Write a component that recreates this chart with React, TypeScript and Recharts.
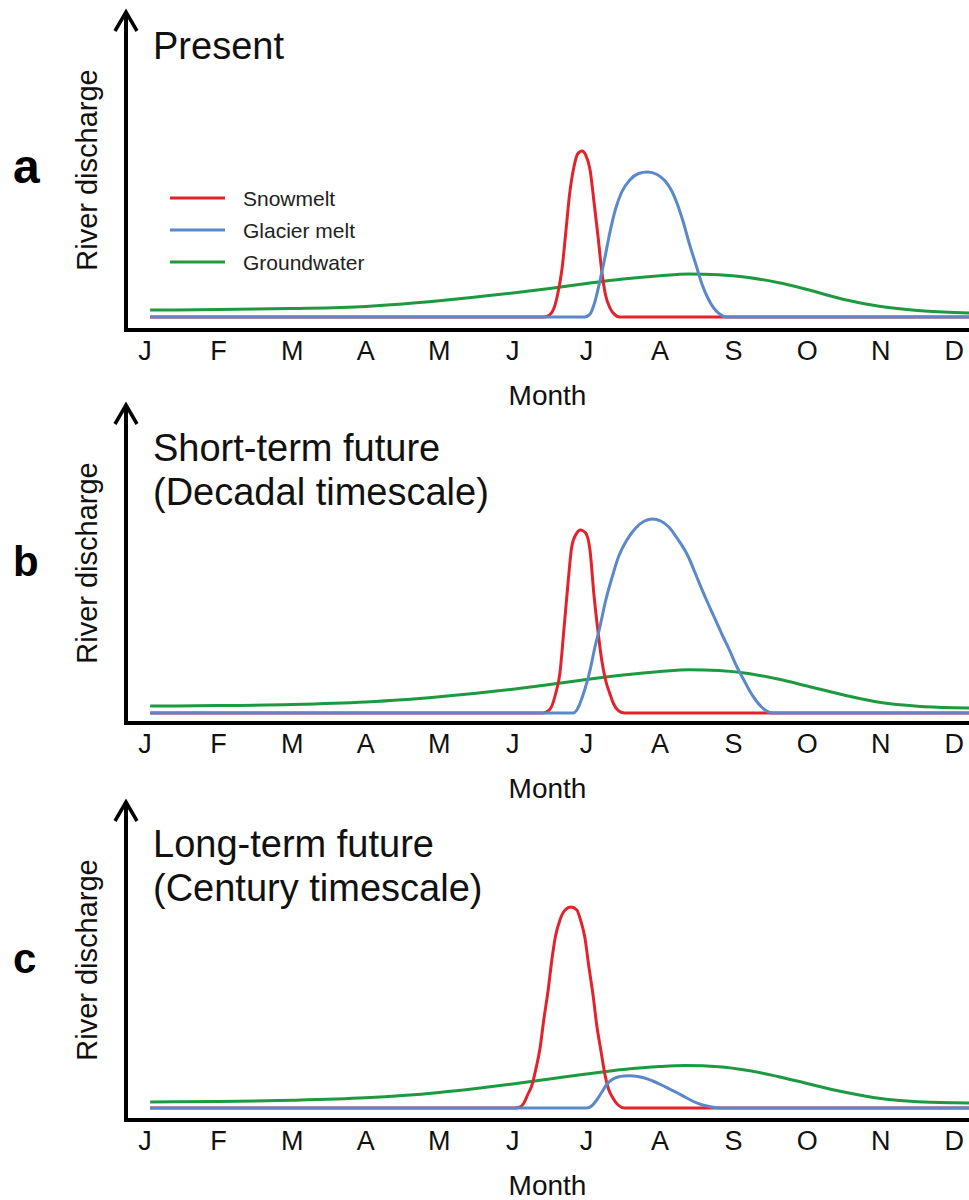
import { Legend, Line, LineChart, ReferenceDot, XAxis, YAxis } from "recharts";

// month positions: J = 0 ... D = 11; discharge in arbitrary units (axis = 0)
const monthTicks = [0, 1, 2, 3, 4, 5, 6, 7, 8, 9, 10, 11];
const monthLabels = ["J", "F", "M", "A", "M", "J", "J", "A", "S", "O", "N", "D"];

const X_MIN = -0.258;
const X_MAX = 11.2;
const Y_MAX = 318;

// ---- a: Present
const presentSnow: [number, number][] = [
  [0.07, 13], [5.43, 13], [5.5, 15], [5.56, 22], [5.61, 36], [5.67, 62], [5.72, 98], [5.77, 135],
  [5.83, 163], [5.88, 176], [5.94, 179], [5.99, 175], [6.05, 160], [6.1, 130], [6.16, 92], [6.21, 58],
  [6.26, 35], [6.32, 22], [6.39, 15], [6.45, 13], [11.2, 13],
];
const presentGlacier: [number, number][] = [
  [0.07, 13], [5.98, 13], [6.05, 16], [6.11, 27], [6.18, 48], [6.25, 72], [6.32, 98], [6.4, 122],
  [6.48, 138], [6.59, 150], [6.71, 156.5], [6.83, 158], [6.96, 155.5], [7.07, 149], [7.16, 139],
  [7.24, 125], [7.32, 107], [7.4, 86], [7.49, 65], [7.57, 46], [7.65, 32], [7.73, 22], [7.81, 16],
  [7.91, 13], [11.2, 13],
];
const presentGround: [number, number][] = [
  [0.07, 20], [1, 20.4], [2, 21.5], [3, 23.6], [3.5, 26], [4, 29.2], [4.5, 33], [5, 37], [5.5, 41.5],
  [6, 46.5], [6.5, 51], [7, 54.3], [7.4, 56], [7.8, 55.3], [8.2, 52.5], [8.6, 47.5], [9, 40.5],
  [9.5, 30.5], [10, 23.5], [10.5, 19.5], [11, 17.5], [11.2, 17],
];

// ---- b: Short-term future
const shortSnow: [number, number][] = [
  [0.07, 10], [5.41, 10], [5.48, 12], [5.53, 17], [5.58, 29], [5.64, 50], [5.69, 90], [5.75, 140],
  [5.8, 176], [5.86, 189], [5.92, 193], [5.99, 190], [6.05, 172], [6.1, 130], [6.16, 90], [6.21, 62],
  [6.26, 43], [6.32, 29], [6.37, 19], [6.44, 12], [6.52, 10], [11.2, 10],
];
const shortGlacier: [number, number][] = [
  [0.07, 10], [5.82, 10], [5.87, 13], [5.92, 21], [5.98, 34], [6.05, 53], [6.11, 74], [6.18, 95],
  [6.26, 122], [6.35, 146], [6.44, 167], [6.55, 183], [6.67, 195], [6.79, 202], [6.9, 204], [7.01, 202],
  [7.12, 196], [7.24, 184], [7.38, 167], [7.5, 146], [7.62, 125], [7.73, 107], [7.84, 89], [7.95, 72],
  [8.04, 57], [8.14, 43], [8.22, 32], [8.3, 23], [8.38, 16], [8.45, 12], [8.52, 10], [11.2, 10],
];
const shortGround: [number, number][] = [
  [0.07, 17], [1, 17.4], [2, 18.5], [3, 21], [3.5, 23.2], [4, 26.2], [4.5, 29.8], [5, 33.8], [5.5, 38.5],
  [6, 43.5], [6.5, 48], [7, 51.5], [7.4, 53.3], [7.8, 52.5], [8.2, 49.5], [8.6, 44], [9, 37], [9.5, 28],
  [10, 20.5], [10.5, 16.8], [11, 15.3], [11.2, 15],
];

// ---- c: Long-term future
const longSnow: [number, number][] = [
  [0.07, 12], [5.03, 12], [5.1, 13], [5.15, 17], [5.2, 25], [5.26, 35], [5.31, 50], [5.37, 72],
  [5.42, 100], [5.48, 130], [5.53, 160], [5.58, 184], [5.64, 200], [5.71, 210], [5.79, 213], [5.87, 210],
  [5.92, 200], [5.98, 182], [6.03, 155], [6.09, 125], [6.14, 95], [6.2, 68], [6.25, 46], [6.3, 31],
  [6.36, 22], [6.43, 15], [6.52, 12], [11.2, 12],
];
const longGlacier: [number, number][] = [
  [0.07, 12], [6.01, 12], [6.07, 14], [6.14, 20], [6.21, 28], [6.28, 36], [6.35, 40.5], [6.43, 43],
  [6.51, 44], [6.59, 44.2], [6.7, 43.5], [6.79, 42], [6.9, 39], [7.02, 35], [7.13, 31], [7.24, 27],
  [7.35, 22.5], [7.47, 18], [7.58, 15], [7.7, 13], [7.84, 12], [11.2, 12],
];
const longGround: [number, number][] = [
  [0.07, 18], [1, 18.5], [2, 19.7], [3, 22.2], [3.5, 24.5], [4, 27.6], [4.5, 31.5], [5, 36], [5.5, 41],
  [6, 46], [6.5, 50.5], [7, 53.5], [7.35, 54.5], [7.8, 53.3], [8.2, 49.5], [8.6, 43.5], [9, 36.5],
  [9.5, 28], [10, 21.5], [10.5, 18.3], [11, 17.2], [11.2, 17],
];

const SNOW = "#e3232b";
const GLACIER = "#5a88c8";
const GROUND = "#1d9940";
const legendOrder = ["Snowmelt", "Glacier melt", "Groundwater"];

const toPoints = (rows: [number, number][]) => rows.map(([m, q]) => ({ m, q }));

const panels = [
  {
    key: "a", letter: "a", letterSize: 48, top: 0, title: ["Present"], titleY: 47, legend: true,
    snow: presentSnow, glacier: presentGlacier, ground: presentGround,
  },
  {
    key: "b", letter: "b", letterSize: 42, top: 393, title: ["Short-term future", "(Decadal timescale)"], titleY: 56,
    legend: false, snow: shortSnow, glacier: shortGlacier, ground: shortGround,
  },
  {
    key: "c", letter: "c", letterSize: 42, top: 790, title: ["Long-term future", "(Century timescale)"], titleY: 55,
    legend: false, snow: longSnow, glacier: longGlacier, ground: longGround,
  },
];

const MonthTick = (props: any) => {
  const { x, y, payload } = props;
  return (
    <text x={x} y={y} dy={22} textAnchor="middle" fontSize={27} fill="#111">
      {monthLabels[payload.value]}
    </text>
  );
};

const MonthLabel = (props: any) => {
  const vb = props.viewBox || { x: 126, y: 330, width: 843, height: 80 };
  return (
    <text x={vb.x + vb.width / 2} y={vb.y + 75} textAnchor="middle" fontSize={28} fill="#111">
      Month
    </text>
  );
};

const PanelText = (props: any) => {
  const { panel } = props;
  const vb = props.viewBox || { x: 106, y: 12, width: 20, height: 318 };
  const axisX = vb.x + vb.width;
  const bottom = vb.y + vb.height;
  const ry = bottom - 160;
  return (
    <g>
      <text
        x={axisX - 29}
        y={ry}
        transform={`rotate(-90, ${axisX - 29}, ${ry})`}
        textAnchor="middle"
        fontSize={29}
        fill="#111"
      >
        River discharge
      </text>
      <text x={13} y={bottom - 147} fontSize={panel.letterSize} fontWeight="bold" fill="#000">
        {panel.letter}
      </text>
      {panel.title.map((line: string, i: number) => (
        <text key={line} x={axisX + 27} y={vb.y + panel.titleY + i * 44} fontSize={38} fill="#111">
          {line}
        </text>
      ))}
    </g>
  );
};

const Arrow = (props: any) => {
  const { cx, cy } = props;
  return (
    <path
      d={`M${cx - 11},${cy + 19} L${cx},${cy} L${cx + 11},${cy + 19}`}
      fill="none"
      stroke="#000"
      strokeWidth={3.5}
    />
  );
};

const LegendBox = (props: any) => {
  const items = [...(props.payload || [])].sort(
    (p: any, q: any) => legendOrder.indexOf(p.value) - legendOrder.indexOf(q.value),
  );
  return (
    <svg width={260} height={100}>
      {items.map((it: any, i: number) => (
        <g key={it.value}>
          <line x1={5} x2={60} y1={15 + i * 32} y2={15 + i * 32} stroke={it.color} strokeWidth={3} />
          <text x={78} y={15 + i * 32 + 7.5} fontSize={21} fill="#222">
            {it.value}
          </text>
        </g>
      ))}
    </svg>
  );
};

function Panel({ panel }: { panel: (typeof panels)[number] }) {
  return (
    <div style={{ position: "absolute", left: 0, top: panel.top }}>
      <LineChart width={969} height={410} margin={{ top: 12, right: 0, bottom: 0, left: 106 }}>
        <XAxis
          type="number"
          dataKey="m"
          domain={[X_MIN, X_MAX]}
          allowDataOverflow
          ticks={monthTicks}
          interval={0}
          tick={<MonthTick />}
          tickLine={false}
          height={80}
          axisLine={{ stroke: "#000", strokeWidth: 4, strokeLinecap: "square" }}
          label={<MonthLabel />}
        />
        <YAxis
          type="number"
          domain={[0, Y_MAX]}
          allowDataOverflow
          width={20}
          tick={false}
          tickLine={false}
          axisLine={{ stroke: "#000", strokeWidth: 4 }}
          label={<PanelText panel={panel} />}
        />
        <Line
          name="Groundwater"
          data={toPoints(panel.ground)}
          dataKey="q"
          type="monotone"
          stroke={GROUND}
          strokeWidth={3}
          dot={false}
          isAnimationActive={false}
        />
        <Line
          name="Snowmelt"
          data={toPoints(panel.snow)}
          dataKey="q"
          type="monotone"
          stroke={SNOW}
          strokeWidth={3}
          dot={false}
          isAnimationActive={false}
        />
        <Line
          name="Glacier melt"
          data={toPoints(panel.glacier)}
          dataKey="q"
          type="monotone"
          stroke={GLACIER}
          strokeWidth={3}
          dot={false}
          isAnimationActive={false}
        />
        <ReferenceDot x={X_MIN} y={Y_MAX} ifOverflow="visible" shape={<Arrow />} />
        {panel.legend && (
          <Legend
            layout="vertical"
            align="center"
            verticalAlign="middle"
            content={<LegendBox />}
            wrapperStyle={{ left: 165, top: 183, width: 260 }}
          />
        )}
      </LineChart>
    </div>
  );
}

export default function App() {
  return (
    <div
      style={{
        position: "absolute",
        left: 0,
        top: 0,
        width: 969,
        height: 1200,
        background: "#fff",
        fontFamily: "'Liberation Sans', Arial, Helvetica, sans-serif",
      }}
    >
      {panels.map((p) => (
        <Panel key={p.key} panel={p} />
      ))}
    </div>
  );
}
